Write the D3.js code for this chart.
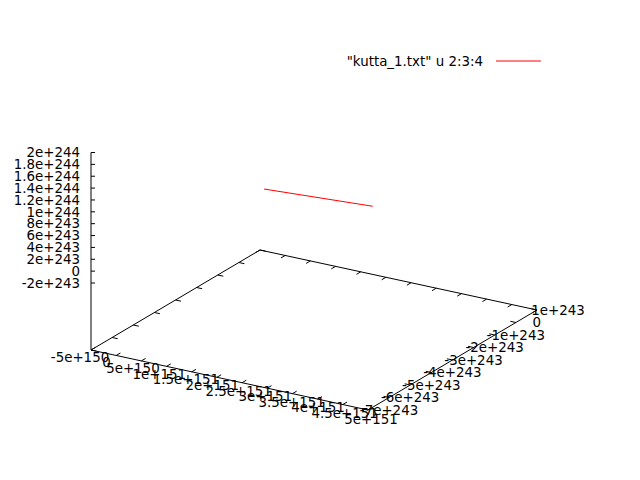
<!DOCTYPE html>
<html>
<head>
<meta charset="utf-8">
<script src="https://cdn.jsdelivr.net/npm/d3@7"></script>
<style>
  body { margin: 0; background: #fff; }
  text { font-family: "DejaVu Sans", sans-serif; font-size: 13.4px; fill: #000; }
</style>
</head>
<body>
<svg id="chart" width="640" height="480"></svg>
<script>
// Tick values and labels
const xTicks = [-5e150, 0, 5e150, 1e151, 1.5e151, 2e151, 2.5e151, 3e151, 3.5e151, 4e151, 4.5e151, 5e151];
const xTickLabels = ["-5e+150", "0", "5e+150", "1e+151", "1.5e+151", "2e+151", "2.5e+151", "3e+151", "3.5e+151", "4e+151", "4.5e+151", "5e+151"];
const yTicks = [-7e243, -6e243, -5e243, -4e243, -3e243, -2e243, -1e243, 0, 1e243];
const yTickLabels = ["-7e+243", "-6e+243", "-5e+243", "-4e+243", "-3e+243", "-2e+243", "-1e+243", "0", "1e+243"];
const zTicks = [-2e243, 0, 2e243, 4e243, 6e243, 8e243, 1e244, 1.2e244, 1.4e244, 1.6e244, 1.8e244, 2e244];
const zTickLabels = ["-2e+243", "0", "2e+243", "4e+243", "6e+243", "8e+243", "1e+244", "1.2e+244", "1.4e+244", "1.6e+244", "1.8e+244", "2e+244"];

// "kutta_1.txt" u 2:3:4 (columns 2, 3, 4)
const seriesName = "\"kutta_1.txt\" u 2:3:4";
const col2 = [0, -2e148, 4.9e151];
const col3 = [0, 5e240, -6.54e243];
const col4 = [0, -4e240, 1.99e244];

const svg = d3.select("#chart");

// normalised axes, then the gnuplot default view (60, 30) as screen vectors
const xN = d3.scaleLinear([xTicks[0], xTicks[xTicks.length - 1]], [0, 1]);
const yN = d3.scaleLinear([yTicks[0], yTicks[yTicks.length - 1]], [0, 1]);
const zPx = d3.scaleLinear([zTicks[0], zTicks[zTicks.length - 1]], [283, 152.5]);

const origin = [91, 350];     // (xmin, ymin) on the base plane
const ex = [277, 60];         // full x range on screen
const ey = [169, -100];       // full y range on screen
const baseY = origin[1];
const zBase = zPx.invert(baseY);

function project(x, y, z) {
  const a = xN(x), b = yN(y);
  return [
    origin[0] + ex[0] * a + ey[0] * b,
    zPx(z) - baseY + origin[1] + ex[1] * a + ey[1] * b
  ];
}

const line = d3.line();
const xmin = xTicks[0], xmax = xTicks[xTicks.length - 1];
const ymin = yTicks[0], ymax = yTicks[yTicks.length - 1];
const zmax = zTicks[zTicks.length - 1];

const g = svg.append("g")
  .attr("stroke", "#000")
  .attr("stroke-width", 1)
  .attr("fill", "none");

// base border + z axis
g.append("path").attr("d", line([
  project(xmin, ymin, zBase), project(xmax, ymin, zBase),
  project(xmax, ymax, zBase), project(xmin, ymax, zBase),
  project(xmin, ymin, zBase)
]));
g.append("path").attr("d", line([project(xmin, ymin, zBase), project(xmin, ymin, zmax)]));

// x tics (front edge and mirrored on back edge)
const tx = 0.025 * (ymax - ymin);
xTicks.forEach(v => {
  g.append("path").attr("d", line([project(v, ymin, zBase), project(v, ymin + tx, zBase)]));
  g.append("path").attr("d", line([project(v, ymax, zBase), project(v, ymax - tx, zBase)]));
});

// y tics (right edge and mirrored on left edge)
const ty = 0.02 * (xmax - xmin);
yTicks.forEach(v => {
  g.append("path").attr("d", line([project(xmax, v, zBase), project(xmax - ty, v, zBase)]));
  g.append("path").attr("d", line([project(xmin, v, zBase), project(xmin + ty, v, zBase)]));
});

// z tics
zTicks.forEach(v => {
  const p = project(xmin, ymin, v);
  g.append("path").attr("d", line([p, [p[0] + 4, p[1]]]));
});

// tic labels
const labels = svg.append("g");
xTicks.forEach((v, i) => {
  const p = project(v, ymin, zBase);
  const t = xN(v);
  labels.append("text")
    .attr("x", p[0] - 11 + 14 * t)
    .attr("y", p[1] + 7 + 2 * t)
    .attr("dy", "0.35em")
    .attr("text-anchor", "middle")
    .text(xTickLabels[i]);
});
yTicks.forEach((v, i) => {
  const p = project(xmax, v, zBase);
  labels.append("text")
    .attr("x", p[0] + 21)
    .attr("y", p[1])
    .attr("dy", "0.35em")
    .attr("text-anchor", "middle")
    .text(yTickLabels[i]);
});
zTicks.forEach((v, i) => {
  const p = project(xmin, ymin, v);
  labels.append("text")
    .attr("x", p[0] - 11)
    .attr("y", p[1])
    .attr("dy", "0.35em")
    .attr("text-anchor", "end")
    .text(zTickLabels[i]);
});

// data line
const pts = col2.map((d, i) => project(d, col3[i], col4[i]));
svg.append("path")
  .attr("d", line(pts))
  .attr("fill", "none")
  .attr("stroke", "#ff0000")
  .attr("stroke-width", 1);

// key
const key = svg.append("g");
key.append("text")
  .attr("x", 483)
  .attr("y", 61)
  .attr("dy", "0.35em")
  .attr("text-anchor", "end")
  .text(seriesName);
key.append("line")
  .attr("x1", 496).attr("x2", 541)
  .attr("y1", 61).attr("y2", 61)
  .attr("stroke", "#ff0000")
  .attr("stroke-width", 1);
</script>
</body>
</html>
